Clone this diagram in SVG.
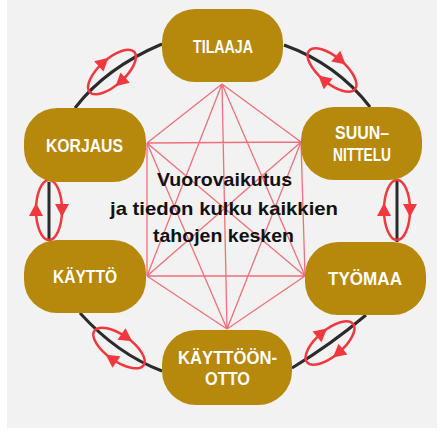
<svg xmlns="http://www.w3.org/2000/svg" xmlns:xlink="http://www.w3.org/1999/xlink" width="448" height="437" viewBox="0 0 448 437">
<style>
.node{fill:#b6880c}
.lbl{fill:#ffffff;font-family:"Liberation Sans",Arial,sans-serif;font-weight:bold;font-size:18px;text-anchor:middle}
.ctr{fill:#111111;font-family:"Liberation Sans",Arial,sans-serif;font-weight:bold;font-size:19px;text-anchor:middle}
.arc{fill:none;stroke:#2b2b2b;stroke-width:3}
.web{fill:none;stroke:#ef7078;stroke-width:1.3}
.cyc ellipse{fill:none;stroke:#f2383f;stroke-width:2.5}
.cyc path{fill:#f2383f}
</style>
<defs>
<g id="cyc" class="cyc">
<ellipse cx="0" cy="0" rx="30" ry="13"/>
<path d="M7,-13 L-6,-20 L-6,-6Z"/>
<path d="M-7,13 L6,6 L6,20Z"/>
</g>
</defs>
<rect x="0" y="0" width="448" height="437" fill="#ffffff"/>
<rect x="7" y="0" width="430" height="428" fill="#f2f2f2"/>
<g id="web">
<path class="web" d="M222,84 L147,143 M222,84 L301,142 M222,84 L147,276 M222,84 L305,276 M222,84 L227,329 M147,143 L301,142 M147,143 L147,276 M147,143 L305,276 M147,143 L227,329 M301,142 L147,276 M301,142 L305,276 M301,142 L227,329 M147,276 L305,276 M147,276 L227,329 M305,276 L227,329"/>
</g>
<g id="connectors">
<path class="arc" d="M162,44 Q105.5,68 75,108"/>
<path class="arc" d="M284,45 Q337,64 370,107"/>
<path class="arc" d="M49,182 L49,240"/>
<path class="arc" d="M397,180 L397,242"/>
<path class="arc" d="M80,313 Q117,354 162,371"/>
<path class="arc" d="M366,315 Q331,344.5 292,368"/>
<use xlink:href="#cyc" transform="translate(112,72) rotate(-42)"/>
<use xlink:href="#cyc" transform="translate(332,70) rotate(40)"/>
<use xlink:href="#cyc" transform="translate(49,210) rotate(90)"/>
<use xlink:href="#cyc" transform="translate(397,210) rotate(90)"/>
<use xlink:href="#cyc" transform="translate(119,348) rotate(35)"/>
<use xlink:href="#cyc" transform="translate(330,343) rotate(-40)"/>
</g>
<g id="tilaaja">
<rect class="node" x="162" y="9" width="121" height="73" rx="33"/>
<text class="lbl" x="223" y="53" textLength="60" lengthAdjust="spacingAndGlyphs">TILAAJA</text>
</g>
<g id="korjaus">
<rect class="node" x="24" y="108" width="122" height="74" rx="33"/>
<text class="lbl" x="84.5" y="152" textLength="77" lengthAdjust="spacingAndGlyphs">KORJAUS</text>
</g>
<g id="suunnittelu">
<rect class="node" x="301" y="107" width="121" height="73" rx="33"/>
<text class="lbl" x="362" y="139" textLength="54" lengthAdjust="spacingAndGlyphs">SUUN–</text>
<text class="lbl" x="362" y="161" textLength="58" lengthAdjust="spacingAndGlyphs">NITTELU</text>
</g>
<g id="kaytto">
<rect class="node" x="24" y="240" width="122" height="73" rx="33"/>
<text class="lbl" x="85" y="283" textLength="64" lengthAdjust="spacingAndGlyphs">KÄYTTÖ</text>
</g>
<g id="tyomaa">
<rect class="node" x="305" y="242" width="121" height="73" rx="33"/>
<text class="lbl" x="365" y="285" textLength="74" lengthAdjust="spacingAndGlyphs">TYÖMAA</text>
</g>
<g id="kayttoonotto">
<rect class="node" x="162" y="330" width="130" height="75" rx="34"/>
<text class="lbl" x="227.5" y="364" textLength="99" lengthAdjust="spacingAndGlyphs">KÄYTTÖÖN-</text>
<text class="lbl" x="227.5" y="385" textLength="45" lengthAdjust="spacingAndGlyphs">OTTO</text>
</g>
<g id="center">
<text class="ctr" x="224.5" y="186" textLength="135" lengthAdjust="spacingAndGlyphs">Vuorovaikutus</text>
<text class="ctr" x="224" y="215" textLength="228" lengthAdjust="spacingAndGlyphs">ja tiedon kulku kaikkien</text>
<text class="ctr" x="223.5" y="242" textLength="141" lengthAdjust="spacingAndGlyphs">tahojen kesken</text>
</g>
</svg>
